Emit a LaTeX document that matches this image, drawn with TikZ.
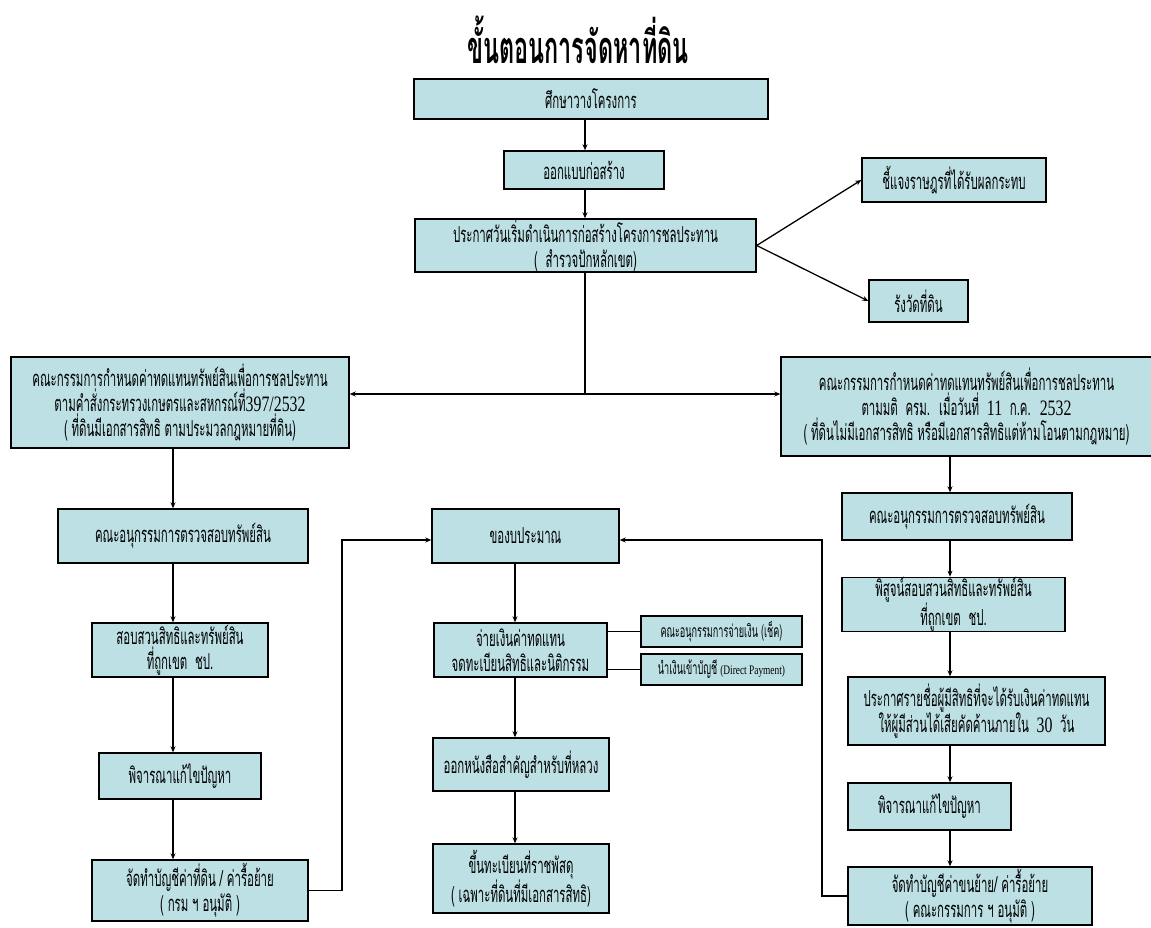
\documentclass[tikz,border=0pt]{standalone}
\usepackage{fontspec}
\setmainfont[Script=Thai,FakeStretch=0.52]{Loma}
\newfontfamily\lat[FakeStretch=0.72]{Liberation Serif}
\usetikzlibrary{arrows.meta}
\definecolor{boxfill}{RGB}{188,224,228}
\tikzset{
  box/.style={draw=black, fill=boxfill, line width=1.4pt, inner sep=0pt, align=center,
              font=\fontsize{22}{25}\selectfont},
  smallbox/.style={box, font=\fontsize{17.5}{20}\selectfont},
  conn/.style={line width=1.3pt},
  arr/.style={conn, -{Stealth[length=6pt,width=5pt]}},
}
\begin{document}
\begin{tikzpicture}[x=1pt,y=-1pt]
\useasboundingbox (0,0) rectangle (1151,927);
\fill[white] (0,0) rectangle (1151,927);

\node[font=\fontsize{45}{50}\selectfont\bfseries] (title) at (578,40) {ขั้นตอนการจัดหาที่ดิน};

\node[box, minimum width=354pt, minimum height=40pt] (b1) at (591,99) {ศึกษาวางโครงการ};
\node[box, minimum width=160pt, minimum height=38pt] (b2) at (584,170) {ออกแบบก่อสร้าง};
\node[box, minimum width=341pt, minimum height=53pt] (b3) at (585.5,245.5) {ประกาศวันเริ่มดำเนินการก่อสร้างโครงการชลประทาน\\(~ สำรวจปักหลักเขต)};
\node[box, minimum width=184pt, minimum height=44pt] (r1) at (954,180) {ชี้แจงราษฎรที่ได้รับผลกระทบ};
\node[box, minimum width=99pt, minimum height=42pt] (r2) at (918.5,301) {รังวัดที่ดิน};

\node[box, minimum width=338pt, minimum height=91pt] (L) at (180,402.5) {คณะกรรมการกำหนดค่าทดแทนทรัพย์สินเพื่อการชลประทาน\\ตามคำสั่งกระทรวงเกษตรและสหกรณ์ที่{\lat 397/2532}\\( ที่ดินมีเอกสารสิทธิ ตามประมวลกฎหมายที่ดิน)};
\node[box, minimum width=371pt, minimum height=99pt] (R) at (966.5,406.5) {คณะกรรมการกำหนดค่าทดแทนทรัพย์สินเพื่อการชลประทาน\\ตามมติ~ ครม.~ เมื่อวันที่~ {\lat 11}~ ก.ค.~ {\lat 2532}\\( ที่ดินไม่มีเอกสารสิทธิ หรือมีเอกสารสิทธิแต่ห้ามโอนตามกฎหมาย)};

% left column
\node[box, minimum width=250pt, minimum height=54pt] (L1) at (183,536) {คณะอนุกรรมการตรวจสอบทรัพย์สิน};
\node[box, minimum width=176pt, minimum height=54pt] (L2) at (180,650) {สอบสวนสิทธิและทรัพย์สิน\\ที่ถูกเขต~ ชป.};
\node[box, minimum width=162pt, minimum height=46pt] (L3) at (180,776) {พิจารณาแก้ไขปัญหา};
\node[box, minimum width=216pt, minimum height=61pt] (L4) at (200,890.5) {จัดทำบัญชีค่าที่ดิน / ค่ารื้อย้าย\\( กรม ฯ อนุมัติ )};

% middle column
\node[box, minimum width=187pt, minimum height=54pt] (M1) at (525.5,536) {ของบประมาณ};
\node[box, minimum width=173pt, minimum height=54pt] (M2) at (520.5,650) {จ่ายเงินค่าทดแทน\\จดทะเบียนสิทธิและนิติกรรม};
\node[smallbox, minimum width=161pt, minimum height=31pt] (M2a) at (721.5,631.5) {คณะอนุกรรมการจ่ายเงิน (เช็ค)};
\node[smallbox, minimum width=161pt, minimum height=31pt] (M2b) at (721.5,669.5) {นำเงินเข้าบัญชี {\lat\fontsize{13}{15}\selectfont (Direct Payment)}};
\node[box, minimum width=176pt, minimum height=53pt] (M3) at (521,764.5) {ออกหนังสือสำคัญสำหรับที่หลวง};
\node[box, minimum width=176pt, minimum height=69pt] (M4) at (521,878.5) {ขึ้นทะเบียนที่ราชพัสดุ\\( เฉพาะที่ดินที่มีเอกสารสิทธิ)};

% right column
\node[box, minimum width=230pt, minimum height=47pt] (R1) at (957,516.5) {คณะอนุกรรมการตรวจสอบทรัพย์สิน};
\node[box, minimum width=223pt, minimum height=53pt] (R2) at (953.5,604.5) {พิสูจน์สอบสวนสิทธิและทรัพย์สิน\\ที่ถูกเขต~ ชป.};
\node[box, minimum width=257pt, minimum height=68pt] (R3) at (976.5,711) {ประกาศรายชื่อผู้มีสิทธิที่จะได้รับเงินค่าทดแทน\\ให้ผู้มีส่วนได้เสียคัดค้านภายใน~ {\lat 30}~ วัน};
\node[box, minimum width=163pt, minimum height=47pt] (R4) at (929.5,806.5) {พิจารณาแก้ไขปัญหา};
\node[box, minimum width=244pt, minimum height=58pt] (R5) at (970,896) {จัดทำบัญชีค่าขนย้าย/ ค่ารื้อย้าย\\( คณะกรรมการ ฯ อนุมัติ )};

% helper coordinates
\coordinate (xc) at (585,0);
\coordinate (J) at (585,394);
\coordinate (xl) at (173,0);
\coordinate (xm) at (515,0);
\coordinate (xr) at (950,0);
\coordinate (kl) at (342,540);
\coordinate (kr) at (822,540);

% top chain
\draw[arr] (b1.south -| xc) -- (b2.north -| xc);
\draw[arr] (b2.south -| xc) -- (b3.north -| xc);
\draw[arr] (b3.east) -- (r1.west);
\draw[arr] (b3.east) -- (r2.west);
\draw[conn] (b3.south -| xc) -- (J);
\draw[arr] (J) -- (L.east |- J);
\draw[arr] (J) -- (R.west |- J);

% left chain
\draw[arr] (L.south -| xl) -- (L1.north -| xl);
\draw[arr] (L1.south -| xl) -- (L2.north -| xl);
\draw[arr] (L2.south -| xl) -- (L3.north -| xl);
\draw[arr] (L3.south -| xl) -- (L4.north -| xl);
\draw[arr] (L4.east) -- (L4.east -| kl) -- (kl) -- (M1.west |- kl);

% middle chain
\draw[arr] (M1.south -| xm) -- (M2.north -| xm);
\draw[conn] (M2.east |- M2a) -- (M2a.west);
\draw[conn] (M2.east |- M2b) -- (M2b.west);
\draw[arr] (M2.south -| xm) -- (M3.north -| xm);
\draw[arr] (M3.south -| xm) -- (M4.north -| xm);

% right chain
\draw[arr] (R.south -| xr) -- (R1.north -| xr);
\draw[arr] (R1.south -| xr) -- (R2.north -| xr);
\draw[arr] (R2.south -| xr) -- (R3.north -| xr);
\draw[arr] (R3.south -| xr) -- (R4.north -| xr);
\draw[arr] (R4.south -| xr) -- (R5.north -| xr);
\draw[arr] (R5.west) -- (R5.west -| kr) -- (kr) -- (M1.east |- kr);
\end{tikzpicture}
\end{document}
